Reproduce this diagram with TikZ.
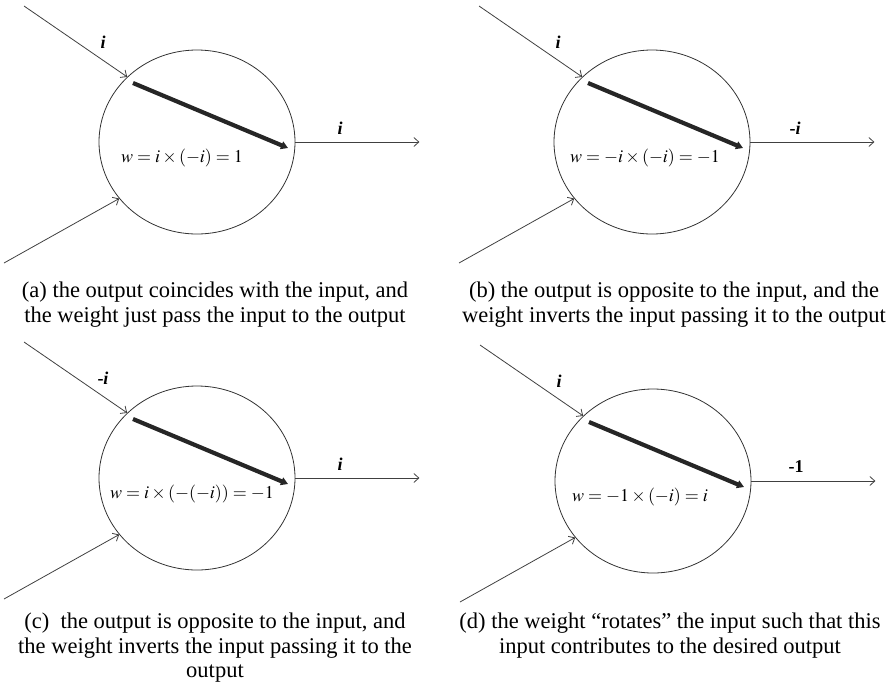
\documentclass[tikz,border=0pt]{standalone}
\usepackage{mathptmx}
\usepackage{fontspec}
\setmainfont{Liberation Serif}
\usetikzlibrary{calc,arrows.meta,shapes.geometric}

\begin{document}
\begin{tikzpicture}[x=1pt, y=-1pt,
  cell/.style={draw=black!80, line width=0.8pt, ellipse, minimum width=196pt,
               minimum height=184pt, inner sep=0pt},
  feed/.style={draw=black!75, line width=0.8pt, -{Straight Barb[length=5pt,width=9pt]}},
  weight/.style={draw=black!85, line width=4.2pt, -{Triangle[length=7pt,width=8pt]}},
  sig/.style={font=\fontsize{18}{20}\selectfont\bfseries},
  eq/.style={font=\fontsize{18}{20}\selectfont},
  captext/.style={font=\fontsize{22.5}{24.5}\selectfont, align=center, anchor=north, inner sep=0pt}]
  \useasboundingbox (0,0) rectangle (892,694);

  % --- four neurons: input, weight, output ---
  \foreach \n/\cx/\cy/\lin/\lout/\fx/\fml in {
      a/197/142/{\textit{i}}/{\textit{i}}/-15/{$w=i\times(-i)=1$},
      b/652/142/{\textit{i}}/{-\textit{i}}/-7/{$w=-i\times(-i)=-1$},
      c/197/478/{-\textit{i}}/{\textit{i}}/-5/{$w=i\times(-(-i))=-1$},
      d/653/481/{\textit{i}}/{-1}/-13/{$w=-1\times(-i)=i$}} {
    \node[cell] (\n) at (\cx,\cy) {};
    \coordinate (\n-in1) at ($(\n)+(-173,-136)$);
    \coordinate (\n-in2) at ($(\n)+(-193,121)$);
    \coordinate (\n-out) at ($(\n.east)+(124,0)$);
    \coordinate (\n-w0) at ($(\n)+(-64,-59)$);   % weight vector
    \coordinate (\n-w1) at ($(\n)+(91,6)$);
    \draw[feed] (\n-in1) -- (\n.137);
    \draw[feed] (\n-in2) -- (\n.216);
    \draw[feed] (\n.east) -- (\n-out);
    \draw[weight] (\n-w0) -- (\n-w1);
    \node[sig] (\n-lin) at ($(\n)+(-94,-100)$) {\lin};
    \node[sig] (\n-lout) at ($(\n)+(143,-14)$) {\lout};
    \node[eq] (\n-eq) at ($(\n)+(\fx,16)$) {\fml};
  }

  % --- captions ---
  \foreach \n/\x/\y/\txt in {
      a/215/282/{(a) the output coincides with the input, and\\the weight just pass the input to the output},
      b/674/282/{(b) the output is opposite to the input, and the\\weight inverts the input passing it to the output},
      c/215/613/{(c)\ \ the output is opposite to the input, and\\the weight inverts the input passing it to the\\output},
      d/670/613/{(d) the weight ``rotates'' the input such that this\\input contributes to the desired output}} {
    \node[captext] (\n-cap) at (\x,\y) {\txt};
  }
\end{tikzpicture}
\end{document}
